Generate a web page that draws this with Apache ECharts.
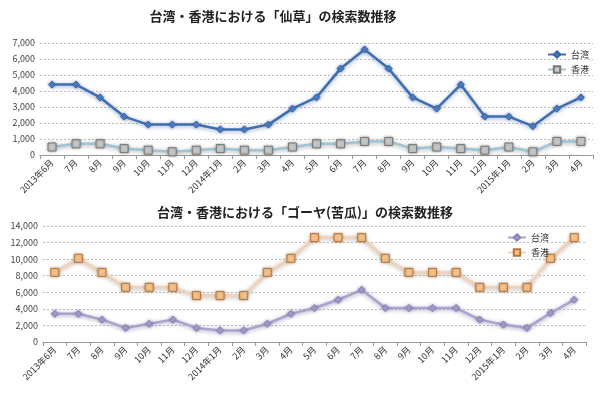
<!DOCTYPE html>
<html><head><meta charset="utf-8">
<script src="https://cdn.jsdelivr.net/npm/echarts@6/dist/echarts.min.js"></script>
<style>html,body{margin:0;padding:0;background:#fff}#c{width:600px;height:395px}</style>
</head><body><div id="c"></div>
<script>
const categories = ['2013年6月','7月','8月','9月','10月','11月','12月','2014年1月','2月','3月','4月','5月','6月','7月','8月','9月','10月','11月','12月','2015年1月','2月','3月','4月'];
const title1 = '台湾・香港における「仙草」の検索数推移';
const title2 = '台湾・香港における「ゴーヤ(苦瓜)」の検索数推移';
const seriesNames = ['台湾','香港'];
const sencaoTaiwan = [4400,4400,3600,2400,1900,1900,1900,1600,1600,1900,2900,3600,5400,6600,5400,3600,2900,4400,2400,2400,1800,2900,3600];
const sencaoHongKong = [500,700,700,400,300,200,300,400,300,300,500,700,700,850,850,400,500,400,300,500,200,850,850];
const goyaTaiwan = [3400,3400,2700,1700,2200,2700,1700,1400,1400,2200,3400,4100,5100,6300,4100,4100,4100,4100,2700,2100,1700,3500,5100];
const goyaHongKong = [8400,10100,8400,6600,6600,6600,5600,5600,5600,8400,10100,12600,12600,12600,10100,8400,8400,8400,6600,6600,6600,10100,12600];
const yTicks1 = {min:0,max:7000,interval:1000};
const yTicks2 = {min:0,max:14000,interval:2000};

const font = '"Noto Sans CJK JP", sans-serif';
const chart = echarts.init(document.getElementById('c'), null, {renderer:'canvas'});
function xAxis(gi){
  return {type:'category', gridIndex:gi, data:categories, boundaryGap:true,
    axisLine:{lineStyle:{color:'#999'}}, axisTick:{show:true,length:4,lineStyle:{color:'#999'}},
    axisLabel:{rotate:45, fontSize:9, color:'#333', fontFamily:font, margin:6, interval:0}};
}
function yAxis(gi, t){
  return {type:'value', gridIndex:gi, min:t.min, max:t.max, interval:t.interval,
    axisLine:{show:false}, axisTick:{show:false},
    splitLine:{lineStyle:{color:'#bbb', type:[2,2]}},
    axisLabel:{fontSize:9, color:'#444', fontFamily:font, margin:5,
      formatter:v=>v.toLocaleString('en-US')}};
}
function ser(name, data, xi, lineColor, glow, sym, symSize, fill, border){
  return {name, type:'line', xAxisIndex:xi, yAxisIndex:xi, data, symbol:sym, symbolSize:symSize,
    showSymbol:true, z: 3,
    lineStyle:{color:lineColor, width:2.5, shadowColor:glow, shadowBlur:4, shadowOffsetY:1},
    itemStyle:{color:fill, borderColor:border, borderWidth:1, shadowColor:glow, shadowBlur:3},
    emphasis:{disabled:true}};
}
chart.setOption({
  animation:false,
  backgroundColor:'#fff',
  title:[
    {text:title1, left:268, top:5, textAlign:'center', textStyle:{fontSize:13, fontWeight:'bold', color:'#222', fontFamily:font}},
    {text:title2, left:300, top:201, textAlign:'center', textStyle:{fontSize:13, fontWeight:'bold', color:'#222', fontFamily:font}}
  ],
  legend:[
    {data:seriesNames, orient:'vertical', left:542, top:44, itemGap:6, itemWidth:18, itemHeight:8,
      textStyle:{fontSize:9, color:'#333', fontFamily:font}, selectedMode:false,
      formatter:n=>n},
  ],
  grid:[
    {left:40, right:7, top:43, height:112},
    {left:43, right:14, top:226, height:116}
  ],
  xAxis:[xAxis(0), xAxis(1)],
  yAxis:[yAxis(0,yTicks1), yAxis(1,yTicks2)],
  series:[
    ser(seriesNames[0], sencaoTaiwan, 0, '#3f6fb3', 'rgba(80,110,160,0.6)', 'diamond', 7, '#4a7cc0', '#3a64a8'),
    ser(seriesNames[1], sencaoHongKong, 0, '#9cc6d6', 'rgba(120,110,110,0.6)', 'rect', 8, '#c8c8c8', '#777'),
    ser(seriesNames[0]+' ', goyaTaiwan, 1, '#aaa2cf', 'rgba(110,100,140,0.6)', 'diamond', 7, '#a89fcf', '#8a80b8'),
    ser(seriesNames[1]+' ', goyaHongKong, 1, '#f1d2b6', 'rgba(140,120,100,0.6)', 'rect', 8, '#f7c38a', '#b7763a')
  ]
});
chart.setOption({legend:[
  {data:seriesNames, orient:'vertical', left:542, top:45, itemGap:6, itemWidth:18, itemHeight:8,
    textStyle:{fontSize:9, color:'#333', fontFamily:font}, selectedMode:false},
  {data:[seriesNames[0]+' ', seriesNames[1]+' '], orient:'vertical', left:502, top:228, itemGap:6, itemWidth:18, itemHeight:8,
    textStyle:{fontSize:9, color:'#333', fontFamily:font}, selectedMode:false}
]});
</script>
</body></html>
